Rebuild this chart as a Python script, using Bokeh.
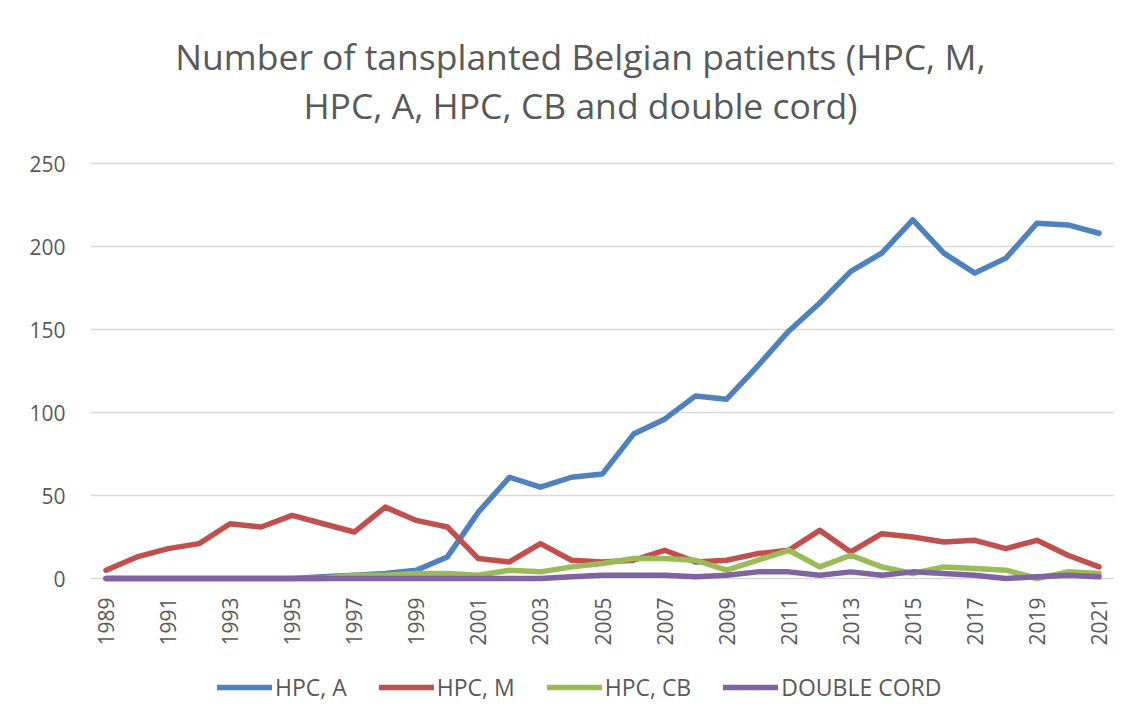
import math
from bokeh.plotting import figure
from bokeh.models import Range1d, Label, Legend, LegendItem, FixedTicker, ColumnDataSource
from bokeh.core.properties import value
from bokeh.embed import file_html
from bokeh.resources import INLINE

years = list(range(1989, 2022))
hpc_a = [0, 0, 0, 0, 0, 0, 0, 1, 2, 3, 5, 13, 40, 61, 55, 61, 63, 87, 96, 110,
         108, 128, 149, 166, 185, 196, 216, 196, 184, 193, 214, 213, 208]
hpc_m = [5, 13, 18, 21, 33, 31, 38, 33, 28, 43, 35, 31, 12, 10, 21, 11, 10, 11, 17, 10,
         11, 15, 17, 29, 16, 27, 25, 22, 23, 18, 23, 14, 7]
hpc_cb = [0, 0, 0, 0, 0, 0, 0, 0, 2, 2, 3, 3, 2, 5, 4, 7, 9, 12, 12, 11,
          5, 11, 17, 7, 14, 7, 3, 7, 6, 5, 0, 4, 3]
double_cord = [0, 0, 0, 0, 0, 0, 0, 0, 0, 0, 0, 0, 0, 0, 0, 1, 2, 2, 2, 1,
               2, 4, 4, 2, 4, 2, 4, 3, 2, 0, 1, 2, 1]
series_names = ["HPC, A", "HPC, M", "HPC, CB", "DOUBLE CORD"]
series_colors = ["#4f81bd", "#c0504d", "#9bbb59", "#8064a2"]
x_ticks = list(range(1989, 2022, 2))
x_tick_labels = [str(y) for y in x_ticks]
y_ticks = [0, 50, 100, 150, 200, 250]
title_lines = ["Number of tansplanted Belgian patients (HPC, M,",
               "HPC, A, HPC, CB and double cord)"]

FONT = "Open Sans"
TXT = "#595959"

p = figure(width=1114, height=704, output_backend="svg", toolbar_location=None,
           x_range=Range1d(1988.5, 2021.5), y_range=Range1d(-75.9, 348.2),
           min_border_left=90, min_border_right=0, min_border_top=0, min_border_bottom=0,
           title=None)
p.outline_line_color = None
p.background_fill_color = "white"
p.border_fill_color = "white"

# x axis drawn as rotated category labels just below the zero line
p.xaxis.visible = False
p.xgrid.grid_line_color = None

p.yaxis.ticker = FixedTicker(ticks=y_ticks)
p.yaxis.axis_line_color = None
p.yaxis.major_tick_line_color = None
p.yaxis.minor_tick_line_color = None
p.yaxis.major_tick_out = 0
p.yaxis.major_tick_in = 0
p.yaxis.major_label_standoff = 25
p.yaxis.major_label_text_font = FONT
p.yaxis.major_label_text_font_size = "21px"
p.yaxis.major_label_text_color = TXT

p.ygrid.ticker = FixedTicker(ticks=y_ticks)
p.ygrid.grid_line_color = "#d9d9d9"
p.ygrid.grid_line_width = 1.5

tick_src = ColumnDataSource(dict(x=x_ticks, y=[0] * len(x_ticks), t=x_tick_labels))
p.text(x="x", y="y", text="t", source=tick_src, angle=math.pi / 2,
       text_align="right", text_baseline="middle", y_offset=19,
       text_font=value(FONT), text_font_size="21px", text_color=TXT)

renderers = []
for vals, name, col in zip([hpc_a, hpc_m, hpc_cb, double_cord], series_names, series_colors):
    r = p.line(years, vals, line_color=col, line_width=5.5, line_cap="round", line_join="round")
    renderers.append((name, r))

legend = Legend(items=[LegendItem(label=n, renderers=[r]) for n, r in renderers],
                orientation="horizontal", location=(127, 1),
                glyph_width=55, glyph_height=20, label_standoff=3, spacing=32,
                label_text_font=FONT, label_text_font_size="23px", label_text_color=TXT,
                border_line_color=None, background_fill_alpha=0, padding=0, margin=0)
p.add_layout(legend, "center")

for line_text, ypos in zip(title_lines, [648.5, 600]):
    p.add_layout(Label(x=490, y=ypos, x_units="screen", y_units="screen", text=line_text,
                       text_align="center", text_baseline="alphabetic", text_font=FONT,
                       text_font_size="35.5px", text_color=TXT))

open("out.html", "w").write(file_html(p, INLINE))
